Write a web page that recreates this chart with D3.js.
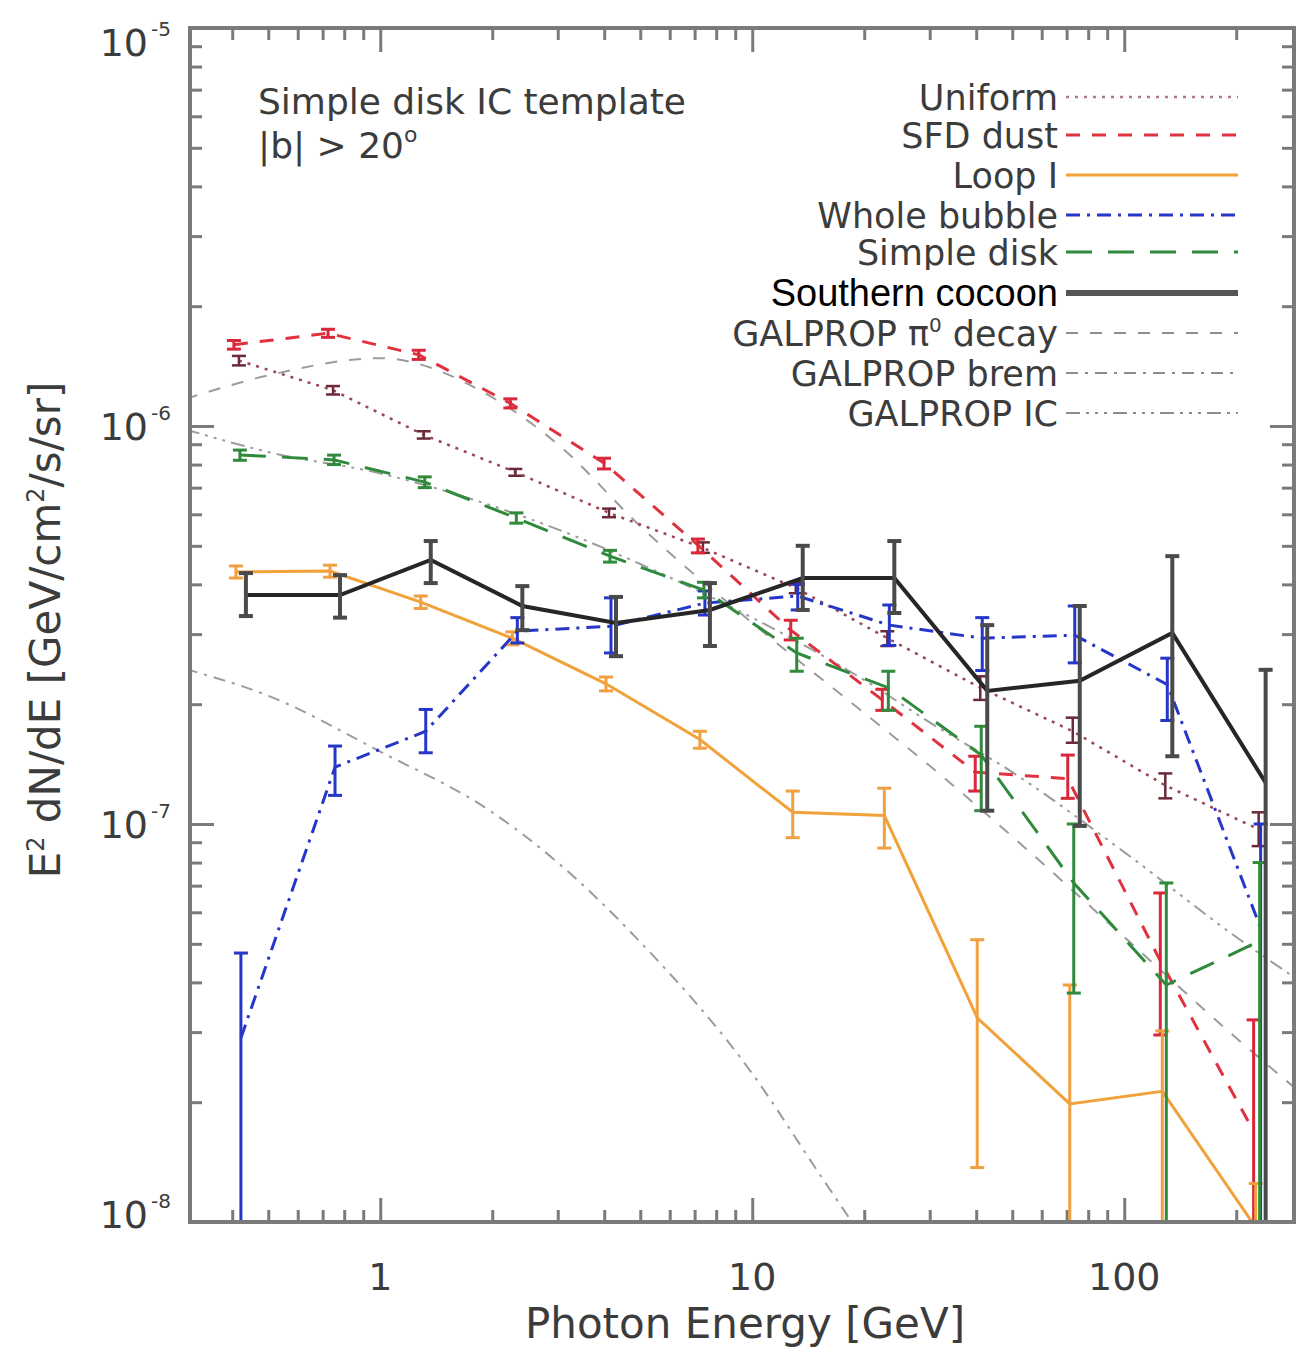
<!DOCTYPE html>
<html lang="en">
<head>
<meta charset="utf-8">
<title>Simple disk IC template</title>
<script src="https://cdn.jsdelivr.net/npm/d3@7"></script>
<style>
  body { margin: 0; background: #fff; }
  svg text { font-family: "DejaVu Sans", sans-serif; fill: #3c3c3c; }
</style>
</head>
<body>
<svg width="1296" height="1352"></svg>
<script>
// bin centres [GeV]
const energies = [0.43, 0.77, 1.35, 2.38, 4.25, 7.6, 13.5, 23.8, 42.3, 75, 133, 237];

// E^2 dN/dE per template, with lower / upper error ends (1e-9 = off the plot)
const uniformVal = [1.46e-6, 1.23e-6, 0.95e-6, 0.766e-6, 0.605e-6, 0.494e-6, 0.392e-6, 0.293e-6, 0.220e-6, 0.171e-6, 0.125e-6, 0.097e-6];
const uniformLo  = [1.42e-6, 1.20e-6, 0.93e-6, 0.75e-6, 0.59e-6, 0.48e-6, 0.38e-6, 0.28e-6, 0.205e-6, 0.160e-6, 0.116e-6, 0.088e-6];
const uniformHi  = [1.50e-6, 1.26e-6, 0.97e-6, 0.78e-6, 0.62e-6, 0.51e-6, 0.405e-6, 0.305e-6, 0.235e-6, 0.185e-6, 0.134e-6, 0.107e-6];

const sfdVal = [1.60e-6, 1.71e-6, 1.51e-6, 1.14e-6, 0.807e-6, 0.502e-6, 0.307e-6, 0.205e-6, 0.135e-6, 0.130e-6, 0.0453e-6, 0.0169e-6];
const sfdLo  = [1.56e-6, 1.67e-6, 1.47e-6, 1.11e-6, 0.78e-6, 0.48e-6, 0.29e-6, 0.193e-6, 0.121e-6, 0.116e-6, 0.0295e-6, 1e-9];
const sfdHi  = [1.64e-6, 1.75e-6, 1.55e-6, 1.17e-6, 0.83e-6, 0.52e-6, 0.325e-6, 0.218e-6, 0.148e-6, 0.149e-6, 0.0671e-6, 0.0322e-6];

const loopVal = [0.430e-6, 0.432e-6, 0.361e-6, 0.293e-6, 0.225e-6, 0.163e-6, 0.107e-6, 0.105e-6, 0.0326e-6, 0.0198e-6, 0.0213e-6, 0.0097e-6];
const loopLo  = [0.415e-6, 0.417e-6, 0.348e-6, 0.282e-6, 0.216e-6, 0.155e-6, 0.0924e-6, 0.087e-6, 0.0137e-6, 1e-9, 1e-9, 1e-9];
const loopHi  = [0.445e-6, 0.447e-6, 0.374e-6, 0.304e-6, 0.234e-6, 0.171e-6, 0.121e-6, 0.123e-6, 0.0512e-6, 0.0394e-6, 0.0302e-6, 0.0125e-6];

const bubbleVal = [0.029e-6, 0.139e-6, 0.171e-6, 0.305e-6, 0.314e-6, 0.359e-6, 0.374e-6, 0.316e-6, 0.293e-6, 0.298e-6, 0.224e-6, 0.0548e-6];
const bubbleLo  = [1e-9, 0.118e-6, 0.151e-6, 0.285e-6, 0.269e-6, 0.335e-6, 0.345e-6, 0.281e-6, 0.243e-6, 0.254e-6, 0.182e-6, 1e-9];
const bubbleHi  = [0.0474e-6, 0.157e-6, 0.194e-6, 0.330e-6, 0.370e-6, 0.385e-6, 0.400e-6, 0.355e-6, 0.330e-6, 0.353e-6, 0.261e-6, 0.100e-6];

const diskVal = [0.846e-6, 0.822e-6, 0.723e-6, 0.587e-6, 0.471e-6, 0.387e-6, 0.269e-6, 0.220e-6, 0.149e-6, 0.0711e-6, 0.0394e-6, 0.0508e-6];
const diskLo  = [0.82e-6, 0.80e-6, 0.70e-6, 0.57e-6, 0.455e-6, 0.37e-6, 0.242e-6, 0.193e-6, 0.108e-6, 0.0376e-6, 1e-9, 1e-9];
const diskHi  = [0.87e-6, 0.845e-6, 0.745e-6, 0.605e-6, 0.487e-6, 0.405e-6, 0.293e-6, 0.242e-6, 0.176e-6, 0.100e-6, 0.0711e-6, 0.080e-6];

const cocoonVal = [0.376e-6, 0.376e-6, 0.461e-6, 0.353e-6, 0.320e-6, 0.345e-6, 0.415e-6, 0.415e-6, 0.216e-6, 0.229e-6, 0.302e-6, 0.127e-6];
const cocoonLo  = [0.333e-6, 0.330e-6, 0.403e-6, 0.307e-6, 0.264e-6, 0.280e-6, 0.345e-6, 0.339e-6, 0.108e-6, 0.0989e-6, 0.148e-6, 1e-9];
const cocoonHi  = [0.427e-6, 0.422e-6, 0.514e-6, 0.396e-6, 0.372e-6, 0.403e-6, 0.500e-6, 0.514e-6, 0.316e-6, 0.353e-6, 0.471e-6, 0.244e-6];

// GALPROP model curves
const galpropE = [0.3, 0.5, 1, 2, 3, 5, 10, 20, 30, 50, 100, 200, 300];
const pi0Val = [1.17e-6, 1.34e-6, 1.48e-6, 1.18e-6, 0.90e-6, 0.56e-6, 0.32e-6, 0.19e-6, 0.14e-6, 0.093e-6, 0.052e-6, 0.029e-6, 0.021e-6];
const icVal  = [0.98e-6, 0.86e-6, 0.76e-6, 0.63e-6, 0.55e-6, 0.45e-6, 0.33e-6, 0.23e-6, 0.18e-6, 0.135e-6, 0.085e-6, 0.052e-6, 0.040e-6];
const bremE   = [0.3, 0.5, 1, 2, 3, 5, 10, 15, 20];
const bremVal = [0.245e-6, 0.21e-6, 0.152e-6, 0.107e-6, 0.080e-6, 0.0505e-6, 0.0236e-6, 0.0134e-6, 0.009e-6];

const xMajor = [1, 10, 100];
const xMinor = [0.4, 0.5, 0.6, 0.7, 0.8, 0.9, 2, 3, 4, 5, 6, 7, 8, 9, 20, 30, 40, 50, 60, 70, 80, 90, 200];
const yMajor = [1e-8, 1e-7, 1e-6, 1e-5];
const yMinor = [];
[1e-8, 1e-7, 1e-6].forEach(d => { for (let k = 2; k <= 9; k++) yMinor.push(k * d); });

const svg = d3.select('svg');
const plot = {left: 190, right: 1294, top: 28, bottom: 1222};

const x = d3.scaleLog().domain([0.308, 286]).range([plot.left, plot.right]);
const y = d3.scaleLog().domain([1e-8, 1e-5]).range([plot.bottom, plot.top]);

svg.append('defs').append('clipPath').attr('id', 'clip')
  .append('rect')
  .attr('x', plot.left).attr('y', plot.top)
  .attr('width', plot.right - plot.left).attr('height', plot.bottom - plot.top);

const axisColor = '#7a7a7a';

// ticks on all four sides, pointing inwards
function tickAxis(axisFn, scale, values, size, transform) {
  const g = svg.append('g')
    .attr('transform', transform)
    .call(axisFn(scale).tickValues(values).tickSize(size).tickFormat(''));
  g.select('.domain').remove();
  g.selectAll('line').attr('stroke', axisColor).attr('stroke-width', 3);
}
tickAxis(d3.axisBottom, x, xMinor, -12, `translate(0,${plot.bottom})`);
tickAxis(d3.axisBottom, x, xMajor, -24, `translate(0,${plot.bottom})`);
tickAxis(d3.axisTop, x, xMinor, -12, `translate(0,${plot.top})`);
tickAxis(d3.axisTop, x, xMajor, -24, `translate(0,${plot.top})`);
tickAxis(d3.axisLeft, y, yMinor, -12, `translate(${plot.left},0)`);
tickAxis(d3.axisLeft, y, yMajor, -24, `translate(${plot.left},0)`);
tickAxis(d3.axisRight, y, yMinor, -12, `translate(${plot.right},0)`);
tickAxis(d3.axisRight, y, yMajor, -24, `translate(${plot.right},0)`);

const chart = svg.append('g').attr('clip-path', 'url(#clip)');

// GALPROP models
const models = [
  {name: 'pi0', e: galpropE, v: pi0Val, dash: '12,12'},
  {name: 'brem', e: bremE, v: bremVal, dash: '12,7,3,7'},
  {name: 'ic', e: galpropE, v: icVal, dash: '14,6,3,6,3,6,3,6'}
];
const modelLine = d3.line().x(d => x(d[0])).y(d => y(d[1])).curve(d3.curveMonotoneX);
models.forEach(m => {
  chart.append('path')
    .datum(m.e.map((e, i) => [e, m.v[i]]))
    .attr('d', modelLine)
    .attr('fill', 'none')
    .attr('stroke', '#9c9c9c')
    .attr('stroke-width', 2)
    .attr('stroke-dasharray', m.dash);
});

const series = [
  {val: uniformVal, lo: uniformLo, hi: uniformHi, color: '#9a4656', err: '#6a2a38', dash: '3,6', width: 2.5, dx: -5},
  {val: sfdVal, lo: sfdLo, hi: sfdHi, color: '#e0323e', err: '#d8283a', dash: '14,12', width: 3, dx: -10},
  {val: loopVal, lo: loopLo, hi: loopHi, color: '#f2a23a', err: '#f0a040', dash: null, width: 3, dx: -8},
  {val: bubbleVal, lo: bubbleLo, hi: bubbleHi, color: '#2636c8', err: '#2636c8', dash: '14,7,3,7', width: 3, dx: -3},
  {val: diskVal, lo: diskLo, hi: diskHi, color: '#2f8a3c', err: '#2f8a3c', dash: '26,16', width: 3, dx: -4},
  {val: cocoonVal, lo: cocoonLo, hi: cocoonHi, color: '#262626', err: '#4a4a4a', dash: null, width: 4, dx: 2}
];

series.forEach(s => {
  const pts = energies.map((e, i) => ({e: e, v: s.val[i], lo: s.lo[i], hi: s.hi[i]}));
  const px = d => x(d.e) + s.dx;
  const line = d3.line().x(px).y(d => y(d.v));
  chart.append('path')
    .datum(pts)
    .attr('d', line)
    .attr('fill', 'none')
    .attr('stroke', s.color)
    .attr('stroke-width', s.width)
    .attr('stroke-dasharray', s.dash);

  const eg = chart.append('g')
    .attr('stroke', s.err)
    .attr('stroke-width', s.width);
  eg.selectAll('line.bar').data(pts).enter().append('line')
    .attr('class', 'bar')
    .attr('x1', px).attr('x2', px)
    .attr('y1', d => y(d.hi)).attr('y2', d => y(d.lo));
  eg.selectAll('line.top').data(pts).enter().append('line')
    .attr('class', 'top')
    .attr('x1', d => px(d) - 7).attr('x2', d => px(d) + 7)
    .attr('y1', d => y(d.hi)).attr('y2', d => y(d.hi));
  eg.selectAll('line.bot').data(pts.filter(d => d.lo >= 1e-8)).enter().append('line')
    .attr('class', 'bot')
    .attr('x1', d => px(d) - 7).attr('x2', d => px(d) + 7)
    .attr('y1', d => y(d.lo)).attr('y2', d => y(d.lo));
});

// frame
svg.append('rect')
  .attr('x', plot.left).attr('y', plot.top)
  .attr('width', plot.right - plot.left).attr('height', plot.bottom - plot.top)
  .attr('fill', 'none').attr('stroke', axisColor).attr('stroke-width', 4);

// tick labels
svg.selectAll('text.xl').data(xMajor).enter().append('text')
  .attr('x', d => x(d)).attr('y', 1290)
  .attr('text-anchor', 'middle').attr('font-size', 38)
  .text(d => d);

const yExp = ['-8', '-7', '-6', '-5'];
yMajor.forEach((v, i) => {
  const base = Math.min(Math.max(y(v) + 14, 56), 1228);
  svg.append('text').attr('x', 148).attr('y', base)
    .attr('text-anchor', 'end').attr('font-size', 38).text('10');
  svg.append('text').attr('x', 151).attr('y', base - 20)
    .attr('font-size', 20).text(yExp[i]);
});

// axis titles
svg.append('text').attr('x', 745).attr('y', 1338)
  .attr('text-anchor', 'middle').attr('font-size', 42)
  .text('Photon Energy [GeV]');

const yt = svg.append('text')
  .attr('transform', 'translate(60,630) rotate(-90)')
  .attr('text-anchor', 'middle').attr('font-size', 42);
yt.append('tspan').text('E');
yt.append('tspan').attr('dy', -16).attr('font-size', 24).text('2');
yt.append('tspan').attr('dy', 16).text(' dN/dE [GeV/cm');
yt.append('tspan').attr('dy', -16).attr('font-size', 24).text('2');
yt.append('tspan').attr('dy', 16).text('/s/sr]');

// annotation
svg.append('text').attr('x', 258).attr('y', 114).attr('font-size', 36)
  .text('Simple disk IC template');
const ann = svg.append('text').attr('x', 258).attr('y', 158).attr('font-size', 36);
ann.append('tspan').text('|b| > 20');
ann.append('tspan').attr('dy', -16).attr('font-size', 22).text('o');

// legend
const legendItems = [
  {label: 'Uniform', color: '#b07888', dash: '3,6', width: 2.5},
  {label: 'SFD dust', color: '#e0323e', dash: '14,12', width: 3},
  {label: 'Loop I', color: '#f2a23a', dash: null, width: 3},
  {label: 'Whole bubble', color: '#2636c8', dash: '14,7,3,7', width: 3},
  {label: 'Simple disk', color: '#2f8a3c', dash: '26,16', width: 3},
  {label: 'Southern cocoon', color: '#555555', dash: null, width: 6},
  {label: 'GALPROP π0 decay', color: '#8c8c8c', dash: '12,12', width: 2},
  {label: 'GALPROP brem', color: '#8c8c8c', dash: '12,7,3,7', width: 2},
  {label: 'GALPROP IC', color: '#8c8c8c', dash: '14,6,3,6,3,6,3,6', width: 2}
];
const legendBase = [110, 148, 188, 228, 265, 306, 346, 386, 426];

legendItems.forEach((it, i) => {
  const b = legendBase[i];
  svg.append('line')
    .attr('x1', 1066).attr('x2', 1238)
    .attr('y1', b - 13).attr('y2', b - 13)
    .attr('stroke', it.color).attr('stroke-width', it.width)
    .attr('stroke-dasharray', it.dash);
  if (it.label === 'Southern cocoon') {
    svg.append('rect').attr('x', 748).attr('y', 270)
      .attr('width', 314).attr('height', 44).attr('fill', '#fff');
    svg.append('text').attr('x', 1058).attr('y', b)
      .attr('text-anchor', 'end')
      .style('font-family', '"Liberation Sans", Arial, sans-serif')
      .style('fill', '#000')
      .attr('font-size', 38).text(it.label);
  } else if (it.label === 'GALPROP π0 decay') {
    const t = svg.append('text').attr('x', 1058).attr('y', b)
      .attr('text-anchor', 'end').attr('font-size', 35);
    t.append('tspan').text('GALPROP π');
    t.append('tspan').attr('dy', -14).attr('font-size', 20).text('0');
    t.append('tspan').attr('dy', 14).text(' decay');
  } else {
    svg.append('text').attr('x', 1058).attr('y', b)
      .attr('text-anchor', 'end').attr('font-size', 35).text(it.label);
  }
});
</script>
</body>
</html>
